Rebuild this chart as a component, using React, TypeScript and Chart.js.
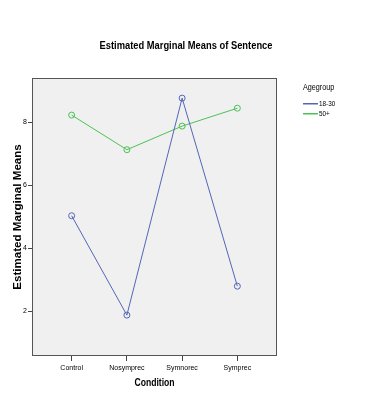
import React, { useEffect, useRef } from "react";
import { Chart, registerables } from "chart.js";

Chart.register(...registerables);

const categories = ["Control", "Nosymprec", "Symnorec", "Symprec"];
const youngValues = [5.03, 1.87, 8.77, 2.79];
const oldValues = [8.23, 7.13, 7.88, 8.45];
const seriesLabels = ["18-30", "50+"];
const yTicks = [2, 4, 6, 8];
const titleText = "Estimated Marginal Means of Sentence";
const xTitleText = "Condition";
const yTitleText = "Estimated Marginal Means";
const legendTitle = "Agegroup";

const SANS = "'Liberation Sans', Arial, sans-serif";
const BLUE = "#5466b8";
const GREEN = "#4cc255";
const COLORS = [BLUE, GREEN];

function condensedText(ctx: any, text: string, x: number, y: number, font: string, sx: number, align: string) {
  ctx.save();
  ctx.font = font;
  ctx.fillStyle = "#000";
  ctx.textBaseline = "middle";
  ctx.textAlign = align;
  ctx.translate(x, y);
  ctx.scale(sx, 1);
  ctx.fillText(text, 0, 0);
  ctx.restore();
}

const frame = {
  id: "frame",
  beforeDatasetsDraw(chart: any) {
    const { ctx, chartArea: a } = chart;
    ctx.save();
    ctx.fillStyle = "#f0f0f0";
    ctx.fillRect(a.left, a.top, a.right - a.left, a.bottom - a.top);
    ctx.strokeStyle = "#555555";
    ctx.lineWidth = 1;
    ctx.strokeRect(a.left + 0.5, a.top + 0.5, a.right - a.left - 1, a.bottom - a.top - 1);
    ctx.restore();
  },
  afterDraw(chart: any) {
    const { ctx, chartArea: a } = chart;
    condensedText(ctx, titleText, 186, 46, `bold 11px ${SANS}`, 0.85, "center");
    condensedText(ctx, xTitleText, (a.left + a.right) / 2, 383, `bold 10.5px ${SANS}`, 0.82, "center");
    condensedText(ctx, legendTitle, 303, 88, `8.5px ${SANS}`, 0.85, "left");
    chart.data.datasets.forEach((ds: any, i: number) => {
      const y = 103 + i * 10;
      ctx.save();
      ctx.globalAlpha = 1;
      ctx.fillStyle = COLORS[i];
      ctx.fillRect(303, y, 15, 1.5);
      ctx.restore();
      condensedText(ctx, ds.label, 319, y + 0.7, `7.5px ${SANS}`, 0.85, "left");
    });
  },
};

export default function App() {
  const ref = useRef<HTMLCanvasElement>(null);
  useEffect(() => {
    const chart = new Chart(ref.current!, {
      type: "line",
      data: {
        datasets: [
          {
            label: seriesLabels[0],
            data: youngValues.map((v, i) => ({ x: i, y: v })),
            borderColor: BLUE,
            borderWidth: 1,
            pointRadius: 3,
            pointBorderWidth: 1,
            pointBorderColor: BLUE,
            pointBackgroundColor: "rgba(0,0,0,0)",
          },
          {
            label: seriesLabels[1],
            data: oldValues.map((v, i) => ({ x: i, y: v })),
            borderColor: GREEN,
            borderWidth: 1,
            pointRadius: 3,
            pointBorderWidth: 1,
            pointBorderColor: GREEN,
            pointBackgroundColor: "rgba(0,0,0,0)",
          },
        ],
      },
      plugins: [frame],
      options: {
        animation: false,
        responsive: false,
        devicePixelRatio: 1,
        layout: { padding: { left: 0, right: 94, top: 78, bottom: 0 } },
        plugins: {
          legend: { display: false },
          tooltip: { enabled: false },
          title: { display: false },
        },
        scales: {
          x: {
            type: "linear",
            min: -0.718,
            max: 3.718,
            afterBuildTicks: (s: any) => {
              s.ticks = categories.map((_, i) => ({ value: i }));
            },
            afterFit: (s: any) => {
              s.height = 43;
            },
            grid: { display: true, drawOnChartArea: false, drawTicks: true, tickLength: 5, color: "#444", tickWidth: 1 },
            border: { display: false },
            ticks: {
              color: "#000",
              font: { family: SANS, size: 7 },
              padding: 3,
              maxRotation: 0,
              autoSkip: false,
              callback: (v: any) => categories[v as number] ?? "",
            },
            title: { display: false },
          },
          y: {
            type: "linear",
            min: 0.57,
            max: 9.41,
            afterBuildTicks: (s: any) => {
              s.ticks = yTicks.map((v) => ({ value: v }));
            },
            afterFit: (s: any) => {
              s.width = 32;
            },
            grid: { display: true, drawOnChartArea: false, drawTicks: true, tickLength: 4, color: "#444", tickWidth: 1 },
            border: { display: false },
            ticks: {
              color: "#000",
              font: { family: SANS, size: 7 },
              padding: 1,
              callback: (v: any) => String(v),
            },
            title: {
              display: true,
              text: yTitleText,
              color: "#000",
              font: { family: SANS, size: 11.6, weight: "bold", lineHeight: 1.2 },
              padding: { top: 11, bottom: 0 },
            },
          },
        },
      },
    } as any);
    return () => chart.destroy();
  }, []);
  return (
    <div style={{ position: "fixed", left: 0, top: 0, width: 371, height: 399, background: "#fff" }}>
      <canvas ref={ref} width={371} height={399} style={{ display: "block" }} />
    </div>
  );
}
